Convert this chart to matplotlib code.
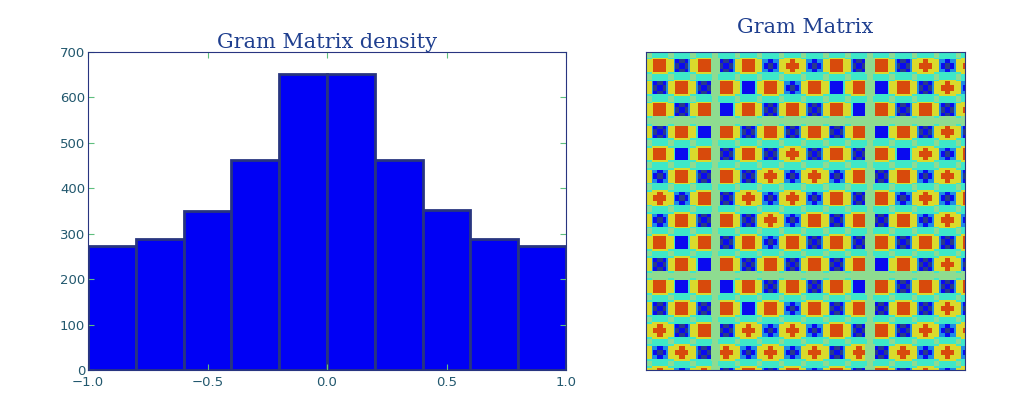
import numpy as np
import matplotlib
matplotlib.use('Agg')
import matplotlib.pyplot as plt
from matplotlib.colors import ListedColormap

# Histogram of Gram matrix values
BIN_EDGES = [-1.0, -0.8, -0.6, -0.4, -0.2, 0.0, 0.2, 0.4, 0.6, 0.8, 1.0]
COUNTS = [273, 288, 349, 463, 651, 651, 463, 352, 288, 272]

# Gram matrix, read block by block (R red, X red cross, B blue, b blue/navy, D navy centre)
CORES = [
    "RbRbRDXDRbRbXDX",
    "bRbRBRDRBRBRbXD",
    "RbRBRbRbRBRbRbX",
    "bRBRbRbRbRBRbXb",
    "RBRbRbXbRbRBXDR",
    "DRbRbXDXDRbRDXb",
    "XDRbXDXDRbRDXDR",
    "DRbRbXDRbRbRDXD",
    "RBRbRDRbRbRbRbR",
    "bRBRbRbRbRBRbXb",
    "RBRBRbRbRBRbRbR",
    "bRbRBRDRbRbRbXb",
    "XbRbXDXDRbRbXDX",
    "DXbXDXDXbXbXDXD",
    "XDXbRbRDRbRbXDX",
]
# gap before each block: G = wide green band, c = narrow band
GAPS = "cccGccccccGccccc"

# quantised jet colours seen in the picture
PALETTE = ['#283a8c', '#0a0af0', '#1e8ce6', '#3ee8c8', '#8edc90', '#dada2c', '#d84a0c']
NAVY, BLUE, LBLUE, CYAN, GREEN, YELLOW, RED = range(7)

PATTERNS = {
    'R': [[RED] * 3] * 3,
    'X': [[YELLOW, RED, YELLOW], [RED, RED, RED], [YELLOW, RED, YELLOW]],
    'B': [[BLUE] * 3] * 3,
    'b': [[BLUE, NAVY, BLUE], [NAVY, BLUE, NAVY], [BLUE, NAVY, BLUE]],
    'D': [[LBLUE, BLUE, LBLUE], [BLUE, NAVY, BLUE], [LBLUE, BLUE, LBLUE]],
}

# layout of one block: band, halo, core x3, halo
SEG_PART = [None, None, 0, 1, 2, None]
SEG_WIDTH = [3, 1, 2, 3, 2, 1]
N_SHOWN = 173

TEXT_COLOR = '#1f3f8f'
TICK_COLOR = '#22586e'
EDGE_COLOR = '#283580'


def near_wide_gap(k, s):
    # halo touching a wide green band
    if s == 1:
        return GAPS[k] == 'G'
    if s == 5:
        return GAPS[k + 1] == 'G'
    return False


def cell(bi, si, bj, sj):
    rband, cband = si == 0, sj == 0
    if rband and cband:
        return GREEN
    if rband:
        return GREEN if GAPS[bi] == 'G' else CYAN
    code = CORES[bi][bj]
    if cband:
        if GAPS[bj] == 'G':
            return GREEN
        return YELLOW if SEG_PART[si] is not None else CYAN
    if near_wide_gap(bi, si) or near_wide_gap(bj, sj):
        return GREEN
    rh, ch = SEG_PART[si] is None, SEG_PART[sj] is None
    if rh or ch:
        if code in 'RX':
            return YELLOW
        if code == 'B':
            return CYAN
        return LBLUE if ch and not rh else CYAN
    return PATTERNS[code][SEG_PART[si]][SEG_PART[sj]]


def build_image():
    units = []
    for k in range(len(CORES)):
        for s, w in enumerate(SEG_WIDTH):
            units += [(k, s)] * w
    units = units[:N_SHOWN]
    img = np.zeros((len(units), len(units)), dtype=int)
    for p, (bi, si) in enumerate(units):
        for q, (bj, sj) in enumerate(units):
            img[p, q] = cell(bi, si, bj, sj)
    return img


fig = plt.figure(figsize=(10.16, 4.08), dpi=100)

# Left: histogram
ax1 = fig.add_axes([88 / 1016, 1 - 370 / 408, 478 / 1016, 318 / 408])
ax1.hist(BIN_EDGES[:-1], bins=BIN_EDGES, weights=COUNTS,
         color='#0000f5', edgecolor=EDGE_COLOR, linewidth=2)
ax1.set_xlim(-1.0, 1.0)
ax1.set_ylim(0, 700)
ax1.set_xticks([-1.0, -0.5, 0.0, 0.5, 1.0])
ax1.set_yticks(range(0, 701, 100))
ax1.tick_params(direction='in', top=True, right=True, length=4,
                color='#5fbf7f', labelcolor=TICK_COLOR, labelsize=9.5)
ax1.tick_params(axis='x', pad=4)
ax1.tick_params(axis='y', pad=2)
for sp in ax1.spines.values():
    sp.set_color(EDGE_COLOR)
ax1.set_title('Gram Matrix density', family='DejaVu Serif', fontsize=15,
              color=TEXT_COLOR, pad=3)

# Right: Gram matrix image
ax2 = fig.add_axes([646 / 1016, 1 - 370 / 408, 319 / 1016, 318 / 408])
ax2.imshow(build_image(), cmap=ListedColormap(PALETTE), vmin=-0.5, vmax=6.5,
           interpolation='nearest', aspect='auto')
ax2.set_xticks([])
ax2.set_yticks([])
for sp in ax2.spines.values():
    sp.set_color(EDGE_COLOR)
ax2.set_title('Gram Matrix', family='DejaVu Serif', fontsize=15,
              color=TEXT_COLOR, pad=14)

fig.savefig('out.png', dpi=100)
